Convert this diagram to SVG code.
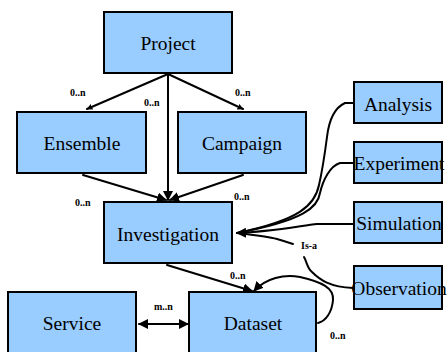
<svg xmlns="http://www.w3.org/2000/svg" width="447" height="352" viewBox="0 0 447 352">
  <style>
    .box { fill: #99CCFF; stroke: #000; stroke-width: 2; }
    .name { font-family: 'Liberation Serif', 'Times New Roman', serif; font-size: 19.5px; fill: #000; text-anchor: middle; }
    .card { font-family: 'Liberation Serif', 'Times New Roman', serif; font-size: 10px; font-weight: bold; fill: #000; }
    .link { fill: none; stroke: #000; stroke-width: 2; stroke-linejoin: round; stroke-linecap: round; }
  </style>
  <defs>
    <marker id="arrow" viewBox="0 0 10 10" refX="9" refY="5" markerWidth="5" markerHeight="5" orient="auto-start-reverse" markerUnits="strokeWidth">
      <path d="M0,0 L10,5 L0,10 Z" fill="#000"/>
    </marker>
    <marker id="tip" viewBox="0 0 10 10" refX="9" refY="5" markerWidth="3" markerHeight="3.5" orient="auto" markerUnits="strokeWidth">
      <path d="M0,0 L10,5 L0,10 Z" fill="#000"/>
    </marker>
  </defs>

  <rect width="447" height="352" fill="#fff"/>

  <g id="connectors">
    <!-- aggregation links -->
    <path class="link" d="M168,74 L87,109" marker-end="url(#tip)"/>
    <path class="link" d="M168,74 L243,109" marker-end="url(#tip)"/>
    <path class="link" d="M168,74 L168,200" marker-end="url(#arrow)"/>
    <path class="link" d="M83,175 L166,200" marker-end="url(#arrow)"/>
    <path class="link" d="M243,175 L170,200" marker-end="url(#arrow)"/>
    <path class="link" d="M167,265 L252,291" marker-end="url(#arrow)"/>
    <!-- dataset self reference -->
    <path class="link" d="M318,323 C326,321 332,312 333,300 C334,288 322,282 300,277 C284,274 266,278 254,291" marker-end="url(#arrow)"/>
    <!-- service / dataset -->
    <path class="link" d="M139,324 L188,324" marker-start="url(#arrow)" marker-end="url(#arrow)"/>
    <!-- is-a links -->
    <path class="link" d="M353,103 L345,103 C334,108 329,120 327,137 C324,160 322,172 319,185 C315,205 300,220 237,233"/>
    <path class="link" d="M353,163 L340,163 C330,166 323,180 320,193 C318,207 305,220 237,233"/>
    <path class="link" d="M353,224 L317,224 C300,226 270,232 237,233" marker-end="url(#arrow)"/>
    <path class="link" d="M237,233 C255,235 270,237 277,239 C284,241 290,243 293,244"/>
    <path class="link" d="M304,257 C307,262 307,268 312,272 C320,280 330,287 353,288"/>
  </g>

  <g id="project"><rect class="box" x="104" y="12" width="128" height="61"/><text class="name" x="168" y="50">Project</text></g>
  <g id="ensemble"><rect class="box" x="17" y="112" width="129" height="61"/><text class="name" x="82" y="150">Ensemble</text></g>
  <g id="campaign"><rect class="box" x="178" y="112" width="128" height="61"/><text class="name" x="242" y="150">Campaign</text></g>
  <g id="investigation"><rect class="box" x="104" y="202" width="128" height="61"/><text class="name" x="168" y="241">Investigation</text></g>
  <g id="service"><rect class="box" x="8" y="292" width="128" height="70"/><text class="name" x="72" y="330">Service</text></g>
  <g id="dataset"><rect class="box" x="189" y="292" width="127" height="70"/><text class="name" x="253" y="330">Dataset</text></g>
  <g id="analysis"><rect class="box" x="354" y="82" width="88" height="41"/><text class="name" x="398" y="111">Analysis</text></g>
  <g id="experiment"><rect class="box" x="354" y="142" width="88" height="41"/><text class="name" x="399" y="170">Experiment</text></g>
  <g id="simulation"><rect class="box" x="354" y="202" width="88" height="41"/><text class="name" x="399" y="230">Simulation</text></g>
  <g id="observation"><rect class="box" x="354" y="266" width="88" height="43"/><text class="name" x="399" y="295">Observation</text></g>

  <g id="labels">
    <text class="card" x="70" y="96">0..n</text>
    <text class="card" x="144" y="106">0..n</text>
    <text class="card" x="235" y="96">0..n</text>
    <text class="card" x="75" y="206">0..n</text>
    <text class="card" x="234" y="200">0..n</text>
    <text class="card" x="230" y="279">0..n</text>
    <text class="card" x="330" y="339">0..n</text>
    <text class="card" x="154" y="310">m..n</text>
    <text class="card" x="301" y="249">Is-a</text>
  </g>
</svg>
